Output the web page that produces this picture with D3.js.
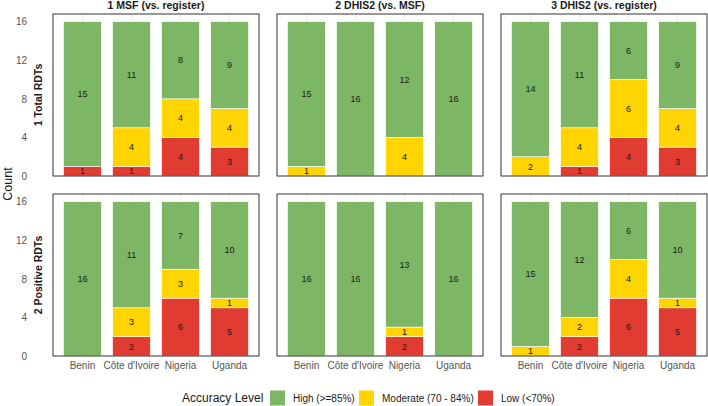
<!DOCTYPE html>
<html>
<head>
<meta charset="utf-8">
<script src="https://cdn.jsdelivr.net/npm/d3@7"></script>
<style>
  body { margin: 0; background: #fff; }
  svg { font-family: "Liberation Sans", Arial, sans-serif; }
</style>
</head>
<body>
<svg id="chart" width="708" height="406"></svg>
<script>
const countries = ['Benin', "Côte d'Ivoire", 'Nigeria', 'Uganda'];
const comparisons = ['1 MSF (vs. register)', '2 DHIS2 (vs. MSF)', '3 DHIS2 (vs. register)'];
const measures = ['1 Total RDTs', '2 Positive RDTs'];
const levels = ['Low (<70%)', 'Moderate (70 - 84%)', 'High (>=85%)'];
const yTicks = [0, 4, 8, 12, 16];

// counts per country as [Low, Moderate, High]
const totalMsf      = [[1, 0, 15], [1, 4, 11], [4, 4, 8],  [3, 4, 9]];
const totalDhisMsf  = [[0, 1, 15], [0, 0, 16], [0, 4, 12], [0, 0, 16]];
const totalDhisReg  = [[0, 2, 14], [1, 4, 11], [4, 6, 6],  [3, 4, 9]];
const posMsf        = [[0, 0, 16], [2, 3, 11], [6, 3, 7],  [5, 1, 10]];
const posDhisMsf    = [[0, 0, 16], [0, 0, 16], [2, 1, 13], [0, 0, 16]];
const posDhisReg    = [[0, 1, 15], [2, 2, 12], [6, 4, 6],  [5, 1, 10]];

const panels = [
  [totalMsf, totalDhisMsf, totalDhisReg],
  [posMsf, posDhisMsf, posDhisReg]
];

const colors = {
  'High (>=85%)': '#7db665',
  'Moderate (70 - 84%)': '#ffd400',
  'Low (<70%)': '#e13c32'
};

const svg = d3.select('#chart');
const panelW = 206, panelH = 162;
const colX = [53, 277, 501];
const rowY = [14, 194];

const x = d3.scaleBand().domain(countries).range([0, panelW]).paddingInner(0.23).paddingOuter(0.215);
const y = d3.scaleLinear().domain([0, 16.8]).range([panelH, 0]);
const stack = d3.stack().keys([0, 1, 2]);

panels.forEach((row, r) => {
  row.forEach((data, c) => {
    const g = svg.append('g').attr('transform', `translate(${colX[c]},${rowY[r]})`);

    // vertical grid lines
    g.selectAll('.grid').data(countries).enter().append('line')
      .attr('x1', d => x(d) + x.bandwidth() / 2)
      .attr('x2', d => x(d) + x.bandwidth() / 2)
      .attr('y1', 0).attr('y2', panelH)
      .attr('stroke', '#dedede').attr('stroke-width', 0.6);

    const series = stack(data);
    series.forEach((s, k) => {
      s.forEach((d, i) => {
        const v = d[1] - d[0];
        if (v <= 0) return;
        g.append('rect')
          .attr('x', x(countries[i]))
          .attr('width', x.bandwidth())
          .attr('y', y(d[1]))
          .attr('height', y(d[0]) - y(d[1]))
          .attr('fill', colors[levels[k]])
          .attr('stroke', '#fff').attr('stroke-width', 0.6);
        g.append('text')
          .attr('x', x(countries[i]) + x.bandwidth() / 2)
          .attr('y', y((d[0] + d[1]) / 2))
          .attr('dy', '0.35em')
          .attr('text-anchor', 'middle')
          .attr('font-size', 9)
          .attr('fill', '#1a1a1a')
          .text(v);
      });
    });

    g.append('rect')
      .attr('width', panelW).attr('height', panelH)
      .attr('fill', 'none').attr('stroke', '#333').attr('stroke-width', 1);

    if (r === 0) {
      svg.append('text')
        .attr('x', colX[c] + panelW / 2).attr('y', 9)
        .attr('text-anchor', 'middle')
        .attr('font-size', 10.5).attr('font-weight', 'bold').attr('fill', '#1a1a1a')
        .text(comparisons[c]);
    }
    if (r === 1) {
      g.selectAll('.xl').data(countries).enter().append('text')
        .attr('x', d => x(d) + x.bandwidth() / 2)
        .attr('y', panelH + 13)
        .attr('text-anchor', 'middle')
        .attr('font-size', 10).attr('fill', '#555')
        .text(d => d);
    }
    if (c === 0) {
      const yAxis = d3.axisLeft(y).tickValues(yTicks).tickSize(0).tickPadding(0);
      const ag = svg.append('g').attr('transform', `translate(27,${rowY[r]})`).call(yAxis);
      ag.select('.domain').remove();
      ag.selectAll('text').attr('font-size', 10).attr('fill', '#555')
        .attr('font-family', '"Liberation Sans", Arial, sans-serif');

      svg.append('text')
        .attr('transform', `translate(${colX[0] - 11},${rowY[r] + panelH / 2}) rotate(-90)`)
        .attr('text-anchor', 'middle')
        .attr('font-size', 10.5).attr('font-weight', 'bold').attr('fill', '#1a1a1a')
        .text(measures[r]);
    }
  });
});

// y axis title
svg.append('text')
  .attr('transform', 'translate(11.5,184) rotate(-90)')
  .attr('text-anchor', 'middle')
  .attr('font-size', 12.5).attr('fill', '#1a1a1a')
  .text('Count');

// legend
const legend = svg.append('g').attr('transform', 'translate(0,398)');
legend.append('text').attr('x', 182).attr('y', 0).attr('dy', '0.35em')
  .attr('font-size', 12).attr('fill', '#1a1a1a').text('Accuracy Level');
const legendItems = ['High (>=85%)', 'Moderate (70 - 84%)', 'Low (<70%)'];
const keyX = [270, 359, 478];
legendItems.forEach((l, i) => {
  legend.append('rect').attr('x', keyX[i]).attr('y', -7.5).attr('width', 15).attr('height', 15)
    .attr('fill', colors[l]);
  legend.append('text').attr('x', keyX[i] + 23).attr('y', 0).attr('dy', '0.35em')
    .attr('font-size', 10).attr('fill', '#1a1a1a').text(l);
});
</script>
</body>
</html>
